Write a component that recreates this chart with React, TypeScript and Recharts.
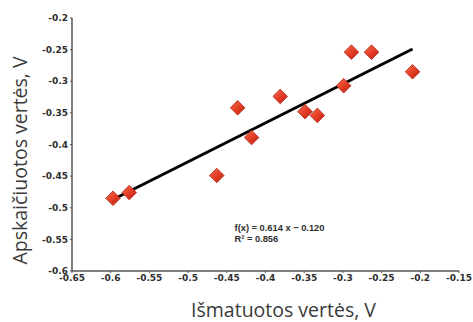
import {
  ScatterChart,
  Scatter,
  XAxis,
  YAxis,
  ReferenceDot,
} from 'recharts';

const measured = [-0.597, -0.576, -0.463, -0.436, -0.418, -0.381, -0.349, -0.333, -0.299, -0.289, -0.263, -0.21];
const computed = [-0.485, -0.476, -0.449, -0.342, -0.389, -0.324, -0.348, -0.354, -0.307, -0.254, -0.254, -0.285];

// Trend line endpoints as drawn: f(x) = 0.614 x - 0.120.
const trendX = [-0.597, -0.21];
const trendY = [-0.487, -0.249];

const xTicks = [-0.65, -0.6, -0.55, -0.5, -0.45, -0.4, -0.35, -0.3, -0.25, -0.2, -0.15];
const yTicks = [-0.6, -0.55, -0.5, -0.45, -0.4, -0.35, -0.3, -0.25, -0.2];

const fitLines = ['f(x) = 0.614 x \u2212 0.120', 'R\u00b2 = 0.856'];
const xTitle = 'Išmatuotos vertės, V';
const yTitle = 'Apskaičiuotos vertės, V';

const points = measured.map((x, i) => ({ x, y: computed[i] }));
const trend = trendX.map((x, i) => ({ x, y: trendY[i] }));

const tickStyle = { fontSize: 9, fill: '#2e2e2e', fontWeight: 700, fontFamily: 'DejaVu Sans' };
const axisLine = { stroke: '#555', strokeWidth: 1.5 };
const titleStyle = { fontSize: 19.5, fill: '#3a3a3a', fontFamily: 'Open Sans' };

function Diamond(props: any) {
  const { cx, cy } = props;
  if (cx == null || cy == null) return null;
  const r = 7.3;
  return (
    <polygon
      points={`${cx},${cy - r} ${cx + r},${cy} ${cx},${cy + r} ${cx - r},${cy}`}
      fill="url(#diamondFill)"
      stroke="#b3261a"
      strokeWidth={0.8}
    />
  );
}

function FitLabel(props: any) {
  const { viewBox } = props;
  const x = viewBox.x;
  const y = viewBox.y;
  return (
    <text x={x} y={y} fontSize={9.3} fontWeight={700} fill="#2e2e2e" fontFamily="Liberation Sans">
      <tspan x={x} dy={0}>{fitLines[0]}</tspan>
      <tspan x={x} dy={11}>{fitLines[1]}</tspan>
    </text>
  );
}

// Axis titles sit a little off the plot centre in the reference.
function XTitle(props: any) {
  const { viewBox } = props;
  const cx = viewBox.x + viewBox.width / 2 + 18;
  return (
    <text x={cx} y={317} textAnchor="middle" {...titleStyle}>
      {xTitle}
    </text>
  );
}

function YTitle(props: any) {
  const { viewBox } = props;
  const cy = viewBox.y + viewBox.height / 2 + 16;
  const x = 27;
  return (
    <text x={x} y={cy} textAnchor="middle" transform={`rotate(-90, ${x}, ${cy})`} {...titleStyle}>
      {yTitle}
    </text>
  );
}

export default function App() {
  return (
    <div style={{ position: 'absolute', left: 0, top: 0, width: 473, height: 322, background: '#fff' }}>
      <ScatterChart width={473} height={322} margin={{ top: 18, right: 14, bottom: 0, left: 0 }}>
        <defs>
          <linearGradient id="diamondFill" x1="0" y1="0" x2="1" y2="1">
            <stop offset="0%" stopColor="#f7704f" />
            <stop offset="55%" stopColor="#e23a22" />
            <stop offset="100%" stopColor="#b52314" />
          </linearGradient>
        </defs>
        <XAxis
          dataKey="x"
          type="number"
          domain={[-0.65, -0.15]}
          ticks={xTicks}
          allowDataOverflow
          height={51}
          axisLine={axisLine}
          tickLine={{ stroke: '#555' }}
          tickSize={2}
          tick={tickStyle}
          label={<XTitle />}
        />
        <YAxis
          dataKey="y"
          type="number"
          domain={[-0.6, -0.2]}
          ticks={yTicks}
          allowDataOverflow
          width={72}
          axisLine={axisLine}
          tickLine={{ stroke: '#555' }}
          tickSize={2}
          tick={tickStyle}
          label={<YTitle />}
        />
        <Scatter
          data={trend}
          line={{ stroke: '#000', strokeWidth: 3 }}
          shape={() => null}
          isAnimationActive={false}
        />
        <Scatter data={points} shape={<Diamond />} isAnimationActive={false} />
        <ReferenceDot x={-0.44} y={-0.536} r={0} fill="none" stroke="none" label={<FitLabel />} />
      </ScatterChart>
    </div>
  );
}
